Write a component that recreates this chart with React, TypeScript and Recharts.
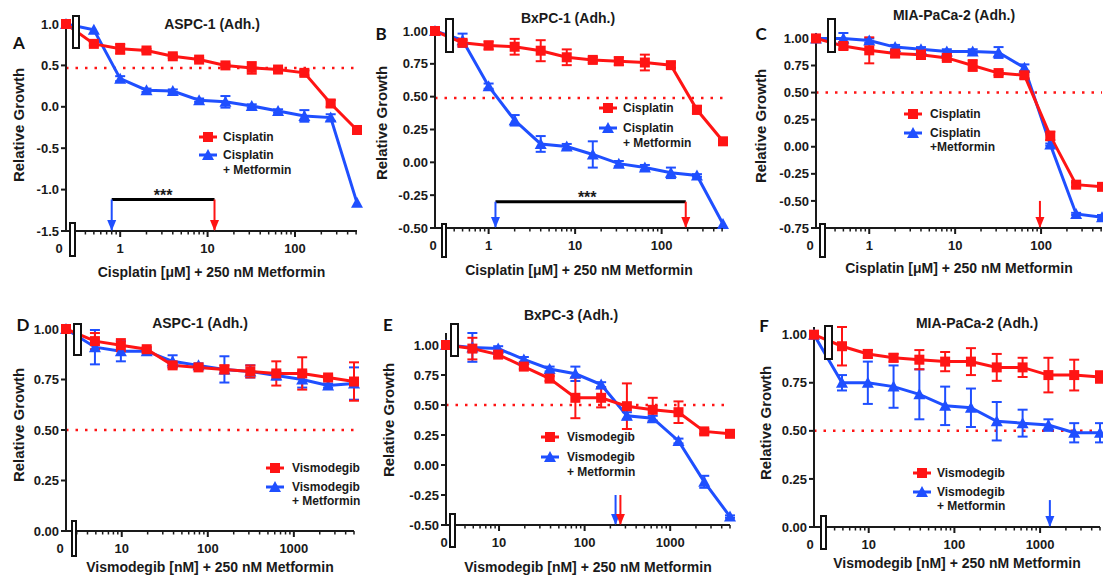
import React from 'react';
import { LineChart, Line, XAxis, YAxis, ErrorBar, ReferenceLine, ReferenceDot } from 'recharts';

const RED = '#ff1414';
const BLUE = '#1f4fff';
const INK = '#1a1a1a';
const FONT = '"Liberation Sans", Arial, sans-serif';

// ---------- data ----------
const CIS_DOSES = [0, 0.5, 1, 2, 4, 8, 16, 32, 64, 128, 256, 512];
const VIS_DOSES = [0, 4.88, 9.77, 19.5, 39, 78, 156, 312, 625, 1250, 2500, 5000];

const CIS_MAJOR = [1, 10, 100];
const CIS_MINOR = [0.3, 0.4, 0.5, 0.6, 0.7, 0.8, 0.9, 2, 3, 4, 5, 6, 7, 8, 9, 20, 30, 40, 50, 60, 70, 80, 90, 200, 300, 400, 500];
const VIS_MAJOR = [10, 100, 1000];
const VIS_MINOR = [3, 4, 5, 6, 7, 8, 9, 20, 30, 40, 50, 60, 70, 80, 90, 200, 300, 400, 500, 600, 700, 800, 900, 2000, 3000, 4000, 5000];

const A_RED = [1.0, 0.76, 0.7, 0.68, 0.61, 0.57, 0.5, 0.47, 0.45, 0.41, 0.04, -0.28];
const A_RED_ERR = [0, 0.02, 0.06, 0.02, 0.02, 0.02, 0.02, 0.07, 0.02, 0.03, 0.04, 0.02];
const A_BLUE = [1.0, 0.93, 0.34, 0.2, 0.19, 0.08, 0.06, 0.01, -0.05, -0.11, -0.13, -1.16];
const A_BLUE_ERR = [0, 0, 0.03, 0.02, 0.02, 0.02, 0.07, 0.02, 0.02, 0.07, 0.04, 0];

const B_RED = [1.0, 0.91, 0.89, 0.88, 0.85, 0.8, 0.78, 0.77, 0.76, 0.74, 0.4, 0.16];
const B_RED_ERR = [0, 0.02, 0.03, 0.06, 0.08, 0.06, 0.02, 0.03, 0.06, 0.02, 0.03, 0.02];
const B_BLUE = [1.0, 0.93, 0.58, 0.32, 0.14, 0.12, 0.06, -0.01, -0.04, -0.08, -0.1, -0.47];
const B_BLUE_ERR = [0, 0.05, 0.02, 0.04, 0.06, 0.02, 0.1, 0.02, 0.02, 0.04, 0.01, 0];

const C_RED = [1.0, 0.93, 0.89, 0.86, 0.85, 0.82, 0.75, 0.68, 0.66, 0.1, -0.35, -0.37];
const C_RED_ERR = [0, 0.03, 0.12, 0.03, 0.04, 0.02, 0.05, 0.02, 0.03, 0.04, 0.02, 0.02];
const C_BLUE = [1.0, 1.0, 0.98, 0.92, 0.9, 0.88, 0.88, 0.87, 0.73, 0.02, -0.62, -0.65];
const C_BLUE_ERR = [0, 0.05, 0.02, 0.02, 0.02, 0.02, 0.02, 0.05, 0.03, 0.01, 0.01, 0.02];

const D_RED = [1.0, 0.94, 0.92, 0.9, 0.82, 0.81, 0.8, 0.79, 0.78, 0.78, 0.76, 0.74];
const D_RED_ERR = [0, 0.04, 0.03, 0.01, 0.01, 0.01, 0.02, 0.03, 0.06, 0.08, 0.01, 0.095];
const D_BLUE = [1.0, 0.91, 0.89, 0.89, 0.84, 0.82, 0.8, 0.79, 0.77, 0.75, 0.72, 0.73];
const D_BLUE_ERR = [0, 0.085, 0.05, 0.01, 0.03, 0.01, 0.065, 0.03, 0.02, 0.04, 0.01, 0.08];

const E_RED = [1.0, 0.97, 0.92, 0.82, 0.72, 0.56, 0.56, 0.49, 0.46, 0.44, 0.28, 0.26];
const E_RED_ERR = [0, 0.09, 0.02, 0.02, 0.02, 0.17, 0.08, 0.19, 0.1, 0.09, 0.02, 0.02];
const E_BLUE = [1.0, 0.98, 0.97, 0.88, 0.8, 0.76, 0.67, 0.41, 0.39, 0.2, -0.14, -0.43];
const E_BLUE_ERR = [0, 0.12, 0.02, 0.02, 0.02, 0.06, 0.02, 0.03, 0.02, 0.02, 0.05, 0.01];

const F_RED = [1.0, 0.94, 0.9, 0.88, 0.87, 0.86, 0.86, 0.83, 0.83, 0.79, 0.79, 0.78];
const F_RED_ERR = [0, 0.1, 0.02, 0.02, 0.05, 0.05, 0.07, 0.07, 0.05, 0.09, 0.08, 0.03];
const F_BLUE = [1.0, 0.75, 0.75, 0.73, 0.69, 0.63, 0.62, 0.55, 0.54, 0.53, 0.49, 0.49];
const F_BLUE_ERR = [0, 0.04, 0.11, 0.11, 0.13, 0.1, 0.1, 0.1, 0.07, 0.03, 0.05, 0.05];

const Y_TICKS_A = [-1.5, -1, -0.5, 0, 0.5, 1];
const Y_TICKS_B = [-0.5, -0.25, 0, 0.25, 0.5, 0.75, 1];
const Y_TICKS_C = [-0.75, -0.5, -0.25, 0, 0.25, 0.5, 0.75, 1];
const Y_TICKS_DF = [0, 0.25, 0.5, 0.75, 1];

const CIS_LABELS = ['Cisplatin', 'Cisplatin', '+ Metformin'];
const CIS_LABELS_C = ['Cisplatin', 'Cisplatin', '+Metformin'];
const VIS_LABELS = ['Vismodegib', 'Vismodegib', '+ Metformin'];

// ---------- layout ----------
type Arrow = { x: number; y1: number; y2: number; color: string };
type Panel = {
  id: string;
  title: string;
  xTitle: string;
  doses: number[];
  red: number[];
  redErr: number[];
  blue: number[];
  blueErr: number[];
  zero: number;
  xMax: number;
  major: number[];
  minor: number[];
  yDomain: [number, number];
  yTicks: number[];
  yDigits: number;
  cutoff: number;
  plot: { l: number; t: number; r: number; b: number };
  zeroDx: number;
  titlePos: [number, number];
  letterPos: [number, number];
  xTitleY: number;
  yTitlePos: [number, number];
  legend: { mx: number; tx: number; ys: number[]; labels: string[] };
  boxes: number[][];
  arrows: Arrow[];
  bar?: { x1: number; x2: number; y: number; starsX: number };
};

const PANELS: Panel[] = [
  {
    id: 'A', title: 'ASPC-1 (Adh.)', xTitle: 'Cisplatin [\u03BCM] + 250 nM Metformin',
    doses: CIS_DOSES, red: A_RED, redErr: A_RED_ERR, blue: A_BLUE, blueErr: A_BLUE_ERR,
    zero: 0.24, xMax: 512, major: CIS_MAJOR, minor: CIS_MINOR,
    yDomain: [-1.5, 1], yTicks: Y_TICKS_A, yDigits: 1, cutoff: 0.47,
    plot: { l: 66, t: 24, r: 357, b: 231 }, zeroDx: -7,
    titlePos: [212, 24], letterPos: [19, 42], xTitleY: 272, yTitlePos: [18, 125],
    legend: { mx: 208, tx: 223, ys: [137, 155, 170], labels: CIS_LABELS },
    boxes: [[72, 15, 80, 49], [69, 222, 76, 257]],
    arrows: [{ x: 0.8, y1: -1.12, y2: -1.5, color: BLUE }, { x: 12, y1: -1.12, y2: -1.5, color: RED }],
    bar: { x1: 0.8, x2: 12, y: -1.12, starsX: 3.1 },
  },
  {
    id: 'B', title: 'BxPC-1 (Adh.)', xTitle: 'Cisplatin [\u03BCM] + 250 nM Metformin',
    doses: CIS_DOSES, red: B_RED, redErr: B_RED_ERR, blue: B_BLUE, blueErr: B_BLUE_ERR,
    zero: 0.24, xMax: 512, major: CIS_MAJOR, minor: CIS_MINOR,
    yDomain: [-0.5, 1], yTicks: Y_TICKS_B, yDigits: 2, cutoff: 0.49,
    plot: { l: 435, t: 31, r: 723, b: 228 }, zeroDx: -2,
    titlePos: [568, 18], letterPos: [381, 33], xTitleY: 270, yTitlePos: [381, 123],
    legend: { mx: 608, tx: 623, ys: [108, 128, 143], labels: CIS_LABELS },
    boxes: [[445, 18, 454, 53], [441, 223, 447, 258]],
    arrows: [{ x: 1.2, y1: -0.3, y2: -0.5, color: BLUE }, { x: 190, y1: -0.3, y2: -0.5, color: RED }],
    bar: { x1: 1.2, x2: 190, y: -0.3, starsX: 13.8 },
  },
  {
    id: 'C', title: 'MIA-PaCa-2 (Adh.)', xTitle: 'Cisplatin [\u03BCM] + 250 nM Metformin',
    doses: CIS_DOSES, red: C_RED, redErr: C_RED_ERR, blue: C_BLUE, blueErr: C_BLUE_ERR,
    zero: 0.24, xMax: 512, major: CIS_MAJOR, minor: CIS_MINOR,
    yDomain: [-0.75, 1], yTicks: Y_TICKS_C, yDigits: 2, cutoff: 0.5,
    plot: { l: 816, t: 33, r: 1102, b: 228 }, zeroDx: -6,
    titlePos: [954, 15], letterPos: [761, 33], xTitleY: 268, yTitlePos: [760, 126],
    legend: { mx: 913, tx: 930, ys: [114, 133, 147], labels: CIS_LABELS_C },
    boxes: [[827, 18, 836, 53], [819, 223, 826, 258]],
    arrows: [{ x: 97, y1: -0.5, y2: -0.75, color: RED }],
  },
  {
    id: 'D', title: 'ASPC-1 (Adh.)', xTitle: 'Vismodegib [nM] + 250 nM Metformin',
    doses: VIS_DOSES, red: D_RED, redErr: D_RED_ERR, blue: D_BLUE, blueErr: D_BLUE_ERR,
    zero: 2.25, xMax: 5000, major: VIS_MAJOR, minor: VIS_MINOR,
    yDomain: [0, 1], yTicks: Y_TICKS_DF, yDigits: 2, cutoff: 0.5,
    plot: { l: 66, t: 329, r: 354, b: 531 }, zeroDx: -6,
    titlePos: [200, 323], letterPos: [23, 324], xTitleY: 567, yTitlePos: [18, 425],
    legend: { mx: 275, tx: 292, ys: [468, 487, 501], labels: VIS_LABELS },
    boxes: [[73, 323, 82, 356], [71, 520, 77, 557]],
    arrows: [],
  },
  {
    id: 'E', title: 'BxPC-3 (Adh.)', xTitle: 'Vismodegib [nM] + 250 nM Metformin',
    doses: VIS_DOSES, red: E_RED, redErr: E_RED_ERR, blue: E_BLUE, blueErr: E_BLUE_ERR,
    zero: 2.4, xMax: 5000, major: VIS_MAJOR, minor: VIS_MINOR,
    yDomain: [-0.5, 1], yTicks: Y_TICKS_B, yDigits: 2, cutoff: 0.5,
    plot: { l: 446, t: 333, r: 730, b: 525 }, zeroDx: -2,
    titlePos: [571, 315], letterPos: [388, 324], xTitleY: 567, yTitlePos: [388, 420],
    legend: { mx: 550, tx: 567, ys: [437, 457, 472], labels: VIS_LABELS },
    boxes: [[450, 323, 459, 357], [449, 513, 456, 548]],
    arrows: [{ x: 230, y1: -0.25, y2: -0.5, color: BLUE }, { x: 262, y1: -0.25, y2: -0.5, color: RED }],
  },
  {
    id: 'F', title: 'MIA-PaCa-2 (Adh.)', xTitle: 'Vismodegib [nM] + 250 nM Metformin',
    doses: VIS_DOSES, red: F_RED, redErr: F_RED_ERR, blue: F_BLUE, blueErr: F_BLUE_ERR,
    zero: 2.3, xMax: 5000, major: VIS_MAJOR, minor: VIS_MINOR,
    yDomain: [0, 1], yTicks: Y_TICKS_DF, yDigits: 2, cutoff: 0.5,
    plot: { l: 814, t: 327, r: 1100, b: 527 }, zeroDx: -4,
    titlePos: [977, 323], letterPos: [764, 325], xTitleY: 563, yTitlePos: [765, 423],
    legend: { mx: 922, tx: 937, ys: [473, 492, 506], labels: VIS_LABELS },
    boxes: [[824, 325, 833, 360], [820, 515, 827, 550]],
    arrows: [{ x: 1300, y1: 0.14, y2: 0, color: BLUE }],
  },
];

const ML = 60, YW = 50, MR = 24, MT = 20, MB = 50, XH = 30;

const redDot = (p: any) => (
  <rect key={`r${p.index}`} x={p.cx - 5} y={p.cy - 5} width={10} height={10} fill={RED} />
);
const blueDot = (p: any) => (
  <path key={`b${p.index}`} d={`M${p.cx},${p.cy - 6} L${p.cx + 6},${p.cy + 5} L${p.cx - 6},${p.cy + 5} Z`} fill={BLUE} />
);

function PanelChart({ p }: { p: Panel }) {
  const { l, t, r, b } = p.plot;
  const w = r - l + ML + MR;
  const h = b - t + MT + MB;
  const rows = p.doses.map((d, i) => ({
    x: d === 0 ? p.zero : d,
    red: p.red[i], redErr: p.redErr[i], blue: p.blue[i], blueErr: p.blueErr[i],
  }));
  const ticks = [p.zero, ...p.minor, ...p.major].sort((a, c) => a - c);
  const renderTick = (tp: any) => {
    const v = tp.payload.value;
    const x = tp.x, y = tp.y;
    if (v === p.zero) {
      return (
        <text x={x + p.zeroDx} y={y + 22} textAnchor="middle" fontSize={13} fontWeight={700} fontFamily={FONT} fill={INK}>0</text>
      );
    }
    const major = p.major.includes(v);
    return (
      <g>
        <line x1={x} x2={x} y1={y} y2={y + (major ? 6 : 3.5)} stroke={INK} strokeWidth={major ? 2 : 1.5} />
        {major && (
          <text x={x} y={y + 22} textAnchor="middle" fontSize={13} fontWeight={700} fontFamily={FONT} fill={INK}>{String(v)}</text>
        )}
      </g>
    );
  };
  return (
    <div style={{ position: 'absolute', left: l - ML, top: t - MT }}>
      <LineChart width={w} height={h} data={rows} margin={{ top: MT, right: MR, bottom: MB - XH, left: ML - YW }}>
        <XAxis dataKey="x" type="number" scale="log" domain={[p.zero, p.xMax]} ticks={ticks} interval={0}
          tick={renderTick} tickLine={false} tickSize={0} tickMargin={0} height={XH}
          axisLine={{ stroke: INK, strokeWidth: 2 }} />
        <YAxis type="number" domain={p.yDomain} ticks={p.yTicks} interval={0} width={YW}
          tickFormatter={(v: number) => v.toFixed(p.yDigits)}
          tick={{ fill: INK, fontSize: 13, fontWeight: 700, fontFamily: FONT }}
          tickLine={{ stroke: INK, strokeWidth: 2 }} tickSize={5} tickMargin={2}
          axisLine={{ stroke: INK, strokeWidth: 2 }} />
        <ReferenceLine y={p.cutoff} stroke={RED} strokeWidth={2.5} strokeDasharray="2.5 7" />
        {p.bar && (
          <ReferenceLine segment={[{ x: p.bar.x1, y: p.bar.y }, { x: p.bar.x2, y: p.bar.y }]} stroke="#000" strokeWidth={3} ifOverflow="visible" />
        )}
        {p.bar && (
          <ReferenceDot x={p.bar.starsX} y={p.bar.y} ifOverflow="visible"
            shape={(sp: any) => (
              <text x={sp.cx} y={sp.cy + 1} textAnchor="middle" fontSize={16} fontWeight={700} fontFamily={FONT} fill={INK}>***</text>
            )} />
        )}
        {p.arrows.map((a, i) => (
          <ReferenceLine key={`al${i}`} segment={[{ x: a.x, y: a.y1 }, { x: a.x, y: a.y2 }]} stroke={a.color} strokeWidth={2} ifOverflow="visible" />
        ))}
        {p.arrows.map((a, i) => (
          <ReferenceDot key={`ah${i}`} x={a.x} y={a.y2} ifOverflow="visible"
            shape={(sp: any) => (
              <path d={`M${sp.cx},${sp.cy} L${sp.cx - 4.5},${sp.cy - 11} L${sp.cx + 4.5},${sp.cy - 11} Z`} fill={a.color} />
            )} />
        ))}
        <Line dataKey="blue" type="linear" stroke={BLUE} strokeWidth={3} dot={blueDot} activeDot={false} isAnimationActive={false}>
          <ErrorBar dataKey="blueErr" direction="y" width={5} strokeWidth={2} stroke={BLUE} />
        </Line>
        <Line dataKey="red" type="linear" stroke={RED} strokeWidth={3} dot={redDot} activeDot={false} isAnimationActive={false}>
          <ErrorBar dataKey="redErr" direction="y" width={5} strokeWidth={2} stroke={RED} />
        </Line>
      </LineChart>
    </div>
  );
}

function Overlay() {
  const txt = { fontFamily: FONT, fontWeight: 700, fill: INK } as const;
  return (
    <svg width={1103} height={577} style={{ position: 'absolute', left: 0, top: 0, pointerEvents: 'none' }}>
      {PANELS.map((p) => {
        const cx = (p.plot.l + p.plot.r) / 2;
        const lg = p.legend;
        return (
          <g key={p.id}>
            {p.boxes.map((bx, i) => (
              <rect key={i} x={bx[0] + 1} y={bx[1] + 1} width={bx[2] - bx[0] - 2} height={bx[3] - bx[1] - 2}
                fill="#fff" stroke="#111" strokeWidth={2} />
            ))}
            <text x={p.titlePos[0]} y={p.titlePos[1]} textAnchor="middle" dominantBaseline="central" fontSize={14} {...txt}>{p.title}</text>
            <text x={p.letterPos[0]} y={p.letterPos[1]} textAnchor="middle" dominantBaseline="central" fontSize={17}
              fontFamily="Lato, 'Open Sans', sans-serif" fontWeight={700} fill="#111">{p.id}</text>
            <text x={cx} y={p.xTitleY} textAnchor="middle" dominantBaseline="central" fontSize={14} {...txt}>{p.xTitle}</text>
            <text x={p.yTitlePos[0]} y={p.yTitlePos[1]} textAnchor="middle" dominantBaseline="central" fontSize={15}
              transform={`rotate(-90 ${p.yTitlePos[0]} ${p.yTitlePos[1]})`} {...txt}>Relative Growth</text>
            <line x1={lg.mx - 9} x2={lg.mx + 9} y1={lg.ys[0]} y2={lg.ys[0]} stroke={RED} strokeWidth={3} />
            <rect x={lg.mx - 5} y={lg.ys[0] - 5} width={10} height={10} fill={RED} />
            <line x1={lg.mx - 9} x2={lg.mx + 9} y1={lg.ys[1]} y2={lg.ys[1]} stroke={BLUE} strokeWidth={3} />
            <path d={`M${lg.mx},${lg.ys[1] - 6} L${lg.mx + 6},${lg.ys[1] + 5} L${lg.mx - 6},${lg.ys[1] + 5} Z`} fill={BLUE} />
            {lg.labels.map((s, i) => (
              <text key={i} x={lg.tx} y={lg.ys[i]} dominantBaseline="central" fontSize={12} {...txt}>{s}</text>
            ))}
          </g>
        );
      })}
    </svg>
  );
}

export default function App() {
  return (
    <div style={{ position: 'absolute', left: 0, top: 0, width: 1103, height: 577, overflow: 'hidden', background: '#fff' }}>
      {PANELS.map((p) => (
        <PanelChart key={p.id} p={p} />
      ))}
      <Overlay />
    </div>
  );
}
